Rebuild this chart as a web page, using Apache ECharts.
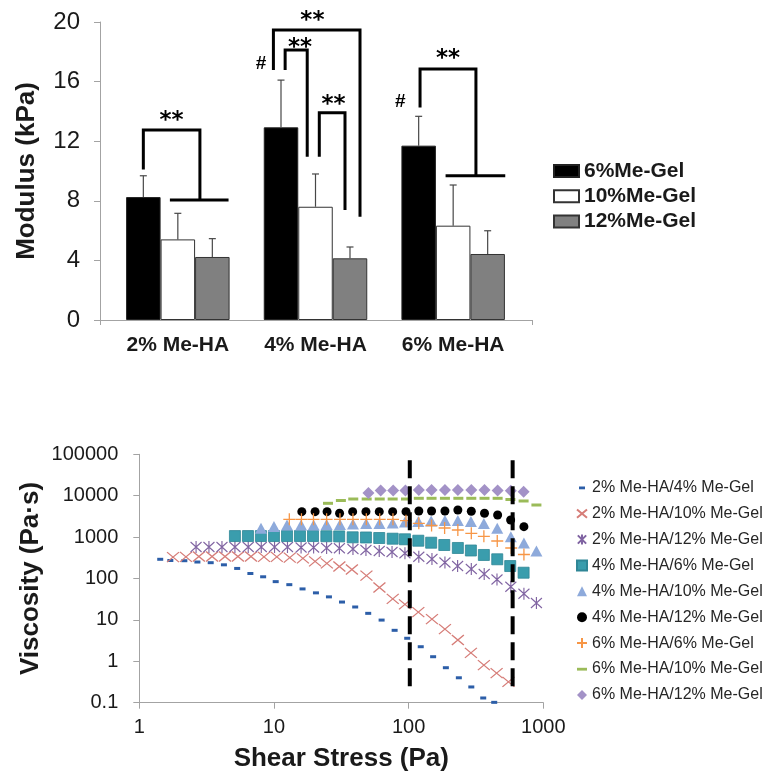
<!DOCTYPE html>
<html><head><meta charset="utf-8">
<script src="https://cdn.jsdelivr.net/npm/echarts@6/dist/echarts.min.js"></script>
<style>html,body{margin:0;padding:0;background:#fff}#c{width:766px;height:777px}</style>
</head><body><div id="c"></div>
<script>
// ---------- top chart data ----------
const BAR_CATEGORIES = ['2% Me-HA', '4% Me-HA', '6% Me-HA'];
const BAR_NAMES = ['6%Me-Gel', '10%Me-Gel', '12%Me-Gel'];
const MODULUS_6 = [8.25, 12.93, 11.7];
const MODULUS_10 = [5.41, 7.6, 6.33];
const MODULUS_12 = [4.23, 4.14, 4.43];
const ERR_TOP_6 = [9.68, 16.1, 13.67];
const ERR_TOP_10 = [7.16, 9.8, 9.06];
const ERR_TOP_12 = [5.46, 4.9, 5.99];
const Y_TOP_TICKS = [0, 4, 8, 12, 16, 20];
// significance brackets: [offset in bar widths from group centre, value]
const BRACKET_LINES = [
  {cat: 0, pts: [[-1.0, 10.1], [-1.0, 12.75], [0.64, 12.75], [0.64, 8.05]]},
  {cat: 0, pts: [[-0.23, 8.05], [1.47, 8.05]]},
  {cat: 1, pts: [[-1.22, 16.78], [-1.22, 19.46], [1.29, 19.46], [1.29, 6.93]]},
  {cat: 1, pts: [[-0.88, 16.78], [-0.88, 18.12], [-0.24, 18.12], [-0.24, 10.96]]},
  {cat: 1, pts: [[0.11, 10.96], [0.11, 13.91], [0.855, 13.91], [0.855, 7.38]]},
  {cat: 2, pts: [[-0.96, 14.27], [-0.96, 16.85], [0.66, 16.85], [0.66, 9.68]]},
  {cat: 2, pts: [[-0.22, 9.68], [1.51, 9.68]]}
];
const SIG_MARKS = [
  {cat: 0, text: '**', at: [-0.18, 13.76]},
  {cat: 1, text: '**', at: [-0.09, 20.47]},
  {cat: 1, text: '**', at: [-0.45, 18.68]},
  {cat: 1, text: '**', at: [0.52, 14.83]},
  {cat: 1, text: '#', at: [-1.58, 17.2]},
  {cat: 2, text: '**', at: [-0.15, 17.9]},
  {cat: 2, text: '#', at: [-1.53, 14.65]}
];

// ---------- bottom chart data: [shear stress (Pa), viscosity (Pa·s)] ----------
const S_2_4 = [[1.43,291],[1.70,272],[2.16,269],[2.70,250],[3.39,241],[4.25,214],[5.33,175],[6.68,132],[8.31,110],[10.3,84],[13.0,71],[16.3,56],[20.5,45],[25.6,36],[32.0,27],[40.1,20.5],[50.1,14.4],[63.0,9.9],[78.7,5.6],[97.6,3.6],[123,2.25],[152,1.29],[189,0.70],[236,0.40],[292,0.24],[358,0.13],[432,0.102]];
const S_2_10 = [[1.78,330],[2.22,335],[2.77,340],[3.47,340],[4.33,340],[5.40,340],[6.75,340],[8.43,335],[10.5,335],[13.1,321],[16.4,308],[20.2,258],[24.7,233],[30.6,195],[37.9,165],[48.6,118],[60.7,60.6],[76.2,32],[93.9,23.6],[118,15.5],[149,10.5],[186,6.0],[232,3.27],[290,1.59],[362,0.81],[450,0.52],[551,0.32]];
const S_2_12 = [[2.64,577],[3.29,577],[4.11,577],[5.13,577],[6.44,577],[8.05,577],[10.1,577],[12.6,577],[15.9,561],[19.7,561],[24.6,546],[30.6,536],[38.6,516],[48.2,488],[60.5,462],[75.3,437],[93.9,406],[119,336],[149,296],[186,243],[231,200],[292,170],[364,128],[453,94.6],[574,63.4],[718,43],[889,25.6]];
const S_4_6 = [[5.13,1060],[6.41,1060],[8.00,1060],[10.0,1060],[12.5,1060],[15.6,1060],[19.5,1060],[24.5,1050],[30.5,1040],[38.4,989],[48.2,979],[60.5,951],[76.1,915],[93.9,885],[118,818],[147,732],[184,644],[232,546],[290,475],[362,370],[455,291],[568,200],[714,138]];
const S_4_10 = [[8.01,1633],[10.0,1803],[12.5,1960],[15.9,1960],[19.7,1960],[24.6,2015],[30.9,2015],[38.6,2072],[48.4,2131],[60.7,2131],[76.1,2192],[93.9,2317],[118,2383],[147,2449],[186,2518],[232,2518],[290,2383],[362,2131],[455,1633],[574,1023],[718,720],[889,462]];
const S_4_12 = [[16.1,4110],[20.2,4110],[24.8,4110],[30.7,3758],[38.4,4110],[48.2,4110],[60.5,4110],[76.1,4110],[95.6,4110],[119,4270],[148,4270],[186,4270],[232,4516],[292,4200],[366,3758],[458,3420],[572,2588],[718,1784]];
const S_6_6 = [[13.0,2692],[16.0,2692],[19.65,2692],[24.6,2692],[30.9,2692],[38.6,2692],[48.5,2692],[61.0,2692],[76.5,2692],[95.6,2489],[119,2153],[148,1906],[185,1659],[232,1484],[292,1236],[362,1045],[455,805],[578,546],[718,380]];
const S_6_10 = [[25.2,6550],[31.4,7660],[38.8,8320],[48.8,8320],[61.0,8320],[76.1,8320],[95.6,8320],[119,8650],[148,8650],[186,8650],[234,8650],[292,8650],[366,8650],[458,8650],[570,8090],[714,7450],[889,5960]];
const S_6_12 = [[50.3,11620],[62.0,13360],[76.8,13360],[94.7,13360],[119,13730],[148,13730],[186,13730],[232,13730],[292,13730],[366,13730],[458,13360],[574,13210],[714,12500]];
const SERIES_NAMES = ['2% Me-HA/4% Me-Gel','2% Me-HA/10% Me-Gel','2% Me-HA/12% Me-Gel','4% Me-HA/6% Me-Gel','4% Me-HA/10% Me-Gel','4% Me-HA/12% Me-Gel','6% Me-HA/6% Me-Gel','6% Me-HA/10% Me-Gel','6% Me-HA/12% Me-Gel'];
const GUIDE_X = [102, 592];
const GUIDE_Y = [0.25, 110000];

// ---------- styling ----------
const AX = '#a3a3a3';
const TXT = '#1a1a1a';
const ARIAL = '"Liberation Sans", Arial, sans-serif';
const DEJAVU = '"DejaVu Sans", sans-serif';
const BAR_W = 34.5;
const CLEAR = 'rgba(0,0,0,0)';

const chart = echarts.init(document.getElementById('c'), null, {renderer: 'canvas'});

function errData(vals, tops, bi) { return vals.map((v, i) => [i, bi, v, tops[i]]); }
const errorSeries = {
  type: 'custom', xAxisIndex: 1, yAxisIndex: 1, clip: false, silent: true, z: 4,
  data: [].concat(errData(MODULUS_6, ERR_TOP_6, 0), errData(MODULUS_10, ERR_TOP_10, 1), errData(MODULUS_12, ERR_TOP_12, 2)),
  renderItem: (params, api) => {
    const cat = api.value(0), bi = api.value(1);
    const a = api.coord([cat, api.value(2)]);
    const b = api.coord([cat, api.value(3)]);
    const x = a[0] + (bi - 1) * BAR_W;
    const st = {stroke: '#474747', lineWidth: 1.2};
    return {type: 'group', children: [
      {type: 'line', shape: {x1: x, y1: a[1], x2: x, y2: b[1]}, style: st},
      {type: 'line', shape: {x1: x - 3.5, y1: b[1], x2: x + 3.5, y2: b[1]}, style: st}
    ]};
  }
};
const bracketSeries = {
  type: 'custom', xAxisIndex: 1, yAxisIndex: 1, clip: false, silent: true, z: 5,
  data: BRACKET_LINES.map((b, i) => [b.cat, i]),
  renderItem: (params, api) => {
    const b = BRACKET_LINES[params.dataIndex];
    const pts = b.pts.map(([off, v]) => { const p = api.coord([b.cat, v]); return [p[0] + off * BAR_W, p[1]]; });
    return {type: 'polyline', shape: {points: pts}, style: {stroke: '#000', lineWidth: 3, fill: null, lineJoin: 'miter'}};
  }
};
const markSeries = {
  type: 'custom', xAxisIndex: 1, yAxisIndex: 1, clip: false, silent: true, z: 6,
  data: SIG_MARKS.map((m, i) => [m.cat, i]),
  renderItem: (params, api) => {
    const m = SIG_MARKS[params.dataIndex];
    const p = api.coord([m.cat, m.at[1]]);
    const star = m.text === '**';
    return {type: 'text', style: {
      text: m.text, x: p[0] + m.at[0] * BAR_W, y: p[1] + (star ? 6 : 0),
      align: 'center', verticalAlign: 'middle',
      fontFamily: star ? DEJAVU : ARIAL, fontWeight: 'bold', fontSize: star ? 23 : 19, fill: '#000'
    }};
  }
};

function sc(i, data, symbol, size, style) {
  return {type: 'scatter', name: SERIES_NAMES[i], data, xAxisIndex: 2, yAxisIndex: 2,
    symbol, symbolSize: size, itemStyle: Object.assign({opacity: 1}, style),
    emphasis: {disabled: true}, z: 3, silent: true};
}
const X_PATH = 'path://M0,0L12,10M12,0L0,10';
const STAR_PATH = 'path://M0,1L10,11M10,1L0,11M5,0L5,12';
const PLUS_PATH = 'path://M0,5L10,5M5,0L5,10';
const scatter = [
  sc(0, S_2_4, 'rect', [6, 3], {color: '#2c5ea8'}),
  sc(1, S_2_10, X_PATH, [12, 10], {color: CLEAR, borderColor: '#d67d78', borderWidth: 1.2}),
  sc(2, S_2_12, STAR_PATH, [11, 12], {color: CLEAR, borderColor: '#8064a2', borderWidth: 1.2}),
  sc(3, S_4_6, 'rect', 11, {color: '#3a9dad', borderColor: '#2f8696', borderWidth: 0.8}),
  sc(4, S_4_10, 'triangle', [12, 11], {color: '#8eaadb'}),
  sc(5, S_4_12, 'circle', 9, {color: '#000'}),
  sc(6, S_6_6, PLUS_PATH, 12, {color: CLEAR, borderColor: '#f79646', borderWidth: 1.3}),
  sc(7, S_6_10, 'rect', [10, 3], {color: '#9bbb59'}),
  sc(8, S_6_12, 'diamond', [12, 12], {color: '#a392c7'})
];
const guides = GUIDE_X.map(x => ({
  type: 'line', xAxisIndex: 2, yAxisIndex: 2, data: GUIDE_Y.map(y => [x, y]),
  symbol: 'none', silent: true, z: 4, animation: false,
  lineStyle: {color: '#000', width: 4, type: [18, 8]}
}));

const legendIcons = {
  0: 'path://M0,0M10,10M2,3.8L8,3.8L8,6.6L2,6.6Z',
  7: 'path://M0,0M10,10M0,3.8L10,3.8L10,6.6L0,6.6Z'
};
const logFmt = v => String(+(+v).toPrecision(6));

const option = {
  animation: false,
  backgroundColor: '#fff',
  grid: [
    {left: 100, top: 22, width: 432, height: 298, outerBoundsMode: 'none'},
    {left: 109, top: 22, width: 413, height: 298, outerBoundsMode: 'none'},
    {left: 139.3, top: 454.3, width: 404, height: 248.4, outerBoundsMode: 'none'}
  ],
  xAxis: [
    {gridIndex: 0, type: 'value', min: 0, max: 1, interval: 1,
      axisLine: {show: true, lineStyle: {color: AX, width: 1}},
      axisTick: {show: true, length: 5, lineStyle: {color: AX}},
      axisLabel: {show: false}, splitLine: {show: false}},
    {gridIndex: 1, type: 'category', data: BAR_CATEGORIES,
      axisLine: {show: false}, axisTick: {show: false}, splitLine: {show: false},
      axisLabel: {margin: 15, fontFamily: ARIAL, fontWeight: 'bold', fontSize: 21, color: TXT, lineHeight: 21}},
    {gridIndex: 2, type: 'log', logBase: 10, min: 1, max: 1000,
      axisLine: {show: true, lineStyle: {color: AX}},
      axisTick: {show: true, length: 6, lineStyle: {color: AX}},
      minorTick: {show: false}, splitLine: {show: false},
      axisLabel: {margin: 15, fontFamily: ARIAL, fontSize: 20, color: TXT, lineHeight: 20, formatter: logFmt},
      name: 'Shear Stress (Pa)', nameLocation: 'middle', nameGap: 43, nameMoveOverlap: false,
      nameTextStyle: {fontFamily: ARIAL, fontWeight: 'bold', fontSize: 26, color: TXT, lineHeight: 26}}
  ],
  yAxis: [
    {gridIndex: 0, type: 'value', min: 0, max: 20, interval: 4,
      axisLine: {show: true, lineStyle: {color: AX}},
      axisTick: {show: true, length: 6, lineStyle: {color: AX}},
      splitLine: {show: false},
      axisLabel: {margin: 20, fontFamily: ARIAL, fontSize: 24, color: TXT, customValues: Y_TOP_TICKS},
      name: 'Modulus (kPa)', nameLocation: 'middle', nameGap: 60.5, nameMoveOverlap: false,
      nameTextStyle: {fontFamily: ARIAL, fontWeight: 'bold', fontSize: 26, color: TXT, lineHeight: 26}},
    {gridIndex: 1, type: 'value', min: 0, max: 20, show: false},
    {gridIndex: 2, type: 'log', logBase: 10, min: 0.1, max: 100000,
      axisLine: {show: true, lineStyle: {color: AX}},
      axisTick: {show: true, length: 6, lineStyle: {color: AX}},
      minorTick: {show: false}, splitLine: {show: false},
      axisLabel: {margin: 21, fontFamily: ARIAL, fontSize: 20, color: TXT, formatter: logFmt},
      name: 'Viscosity (Pa·s)', nameLocation: 'middle', nameGap: 95.5, nameMoveOverlap: false,
      nameTextStyle: {fontFamily: ARIAL, fontWeight: 'bold', fontSize: 26, color: TXT, lineHeight: 26}}
  ],
  legend: [
    {data: BAR_NAMES, orient: 'vertical', left: 553, top: 160.5, padding: 0, itemWidth: 25, itemHeight: 12,
      itemGap: 4.3, icon: 'rect', selectedMode: false,
      textStyle: {fontFamily: ARIAL, fontWeight: 'bold', fontSize: 21, color: TXT, lineHeight: 21}},
    {data: SERIES_NAMES.map((n, i) => legendIcons[i] ? {name: n, icon: legendIcons[i]} : {name: n}),
      orient: 'vertical', left: 576, top: 479.7, padding: 0, itemWidth: 10, itemHeight: 10, itemGap: 9.9,
      selectedMode: false,
      textStyle: {fontFamily: ARIAL, fontSize: 16, color: '#262626', lineHeight: 16}}
  ],
  series: [
    {type: 'bar', name: BAR_NAMES[0], data: MODULUS_6, xAxisIndex: 1, yAxisIndex: 1, barWidth: BAR_W, barGap: '0%',
      itemStyle: {color: '#000', borderColor: '#222', borderWidth: 1}, silent: true},
    {type: 'bar', name: BAR_NAMES[1], data: MODULUS_10, xAxisIndex: 1, yAxisIndex: 1, barWidth: BAR_W, barGap: '0%',
      itemStyle: {color: '#fff', borderColor: '#333', borderWidth: 1}, silent: true},
    {type: 'bar', name: BAR_NAMES[2], data: MODULUS_12, xAxisIndex: 1, yAxisIndex: 1, barWidth: BAR_W, barGap: '0%',
      itemStyle: {color: '#808080', borderColor: '#333', borderWidth: 1}, silent: true},
    errorSeries, bracketSeries, markSeries
  ].concat(scatter, guides)
};
chart.setOption(option);
</script></body></html>
